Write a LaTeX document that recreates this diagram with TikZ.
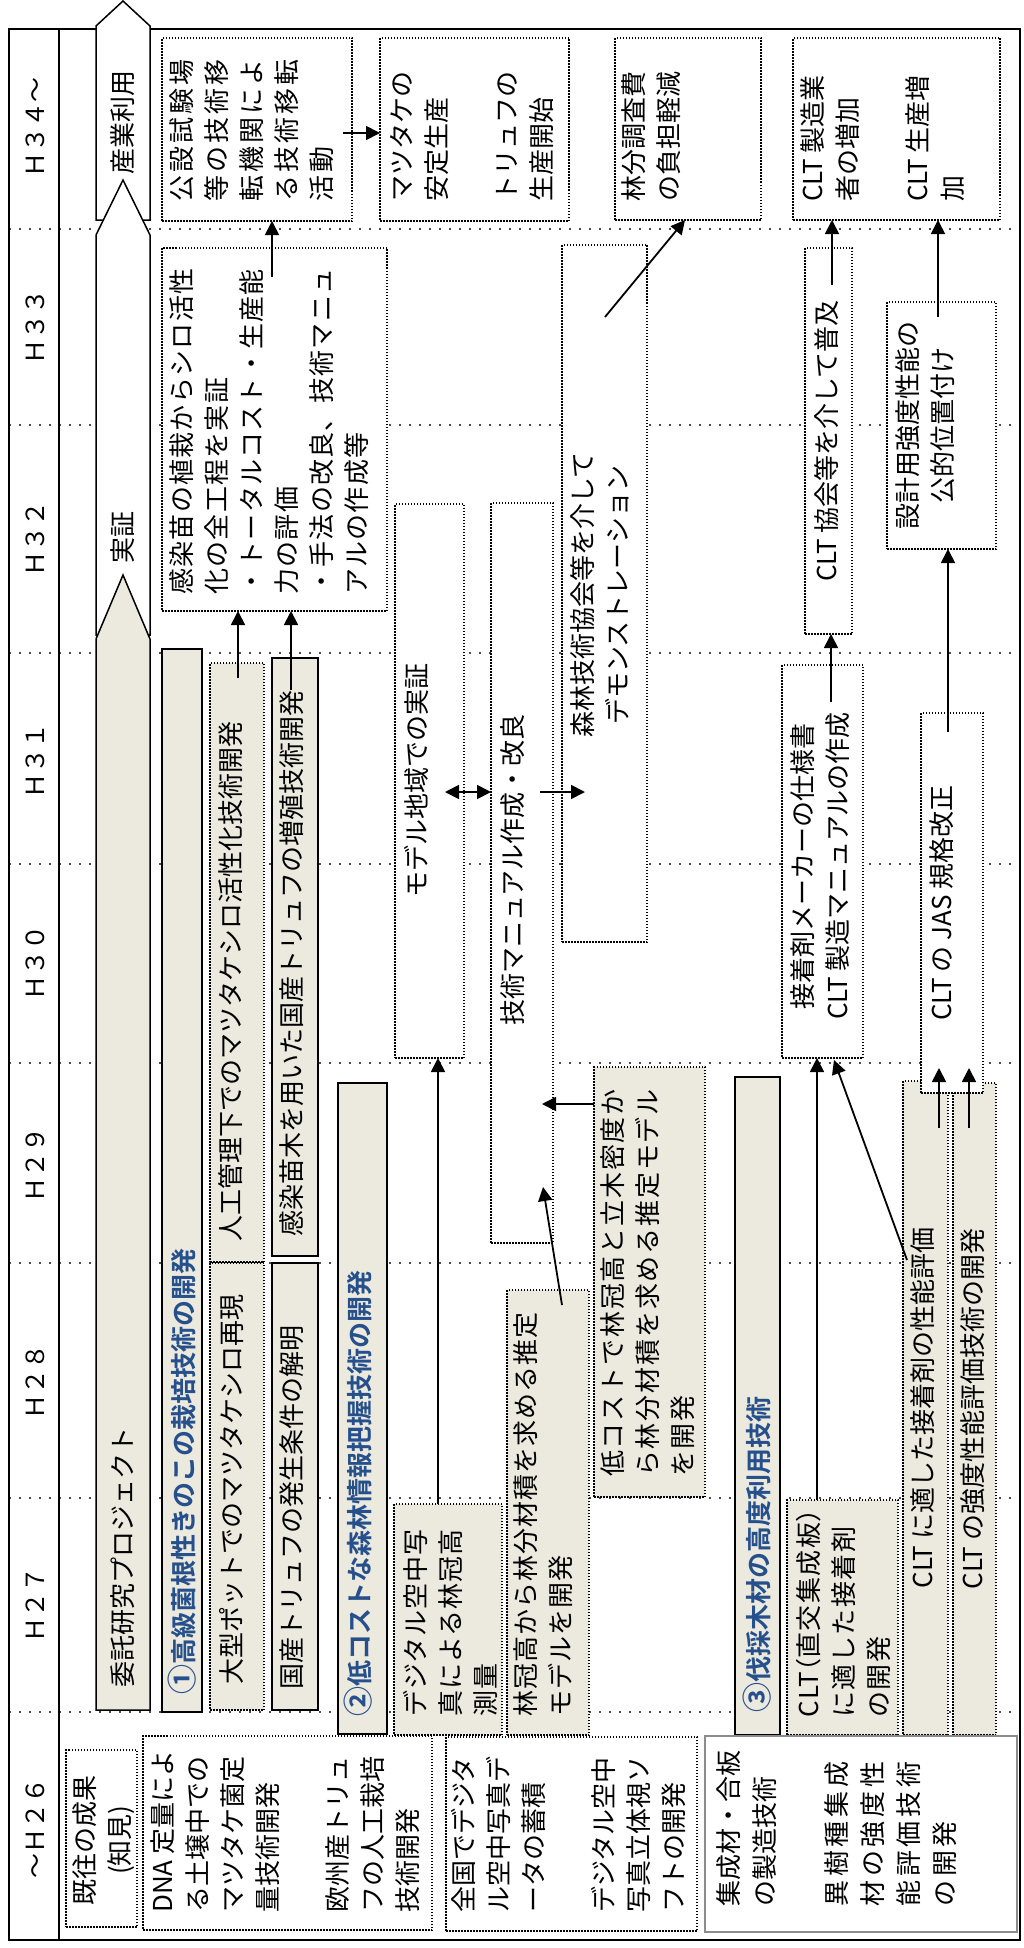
\documentclass[tikz,border=0pt]{standalone}
\usepackage{fontspec}
\setmainfont{Noto Sans CJK JP}[BoldFont={* Bold}]
\usetikzlibrary{arrows.meta}
\definecolor{beige}{RGB}{236,233,222}
\definecolor{hdblue}{RGB}{38,80,140}
\newcommand\mybox[6]{\node[#2,anchor=north west,minimum width={(#5)-(#3)},minimum height={(#6)-(#4)}] (#1) at (#3,#4) {};}
\newcommand\spread[1]{{\addfontfeature{LetterSpace=15}#1}}
\newcommand\halfw[1]{{\addfontfeature{RawFeature=+halt}#1}}
\newcommand\circnum[1]{{\fontsize{30}{35}\selectfont #1}}
\begin{document}
\begin{tikzpicture}[x=1pt,y=-1pt,
 box/.style={rectangle,inner sep=0pt,outer sep=0pt,line width=1.4pt},
 gsolid/.style={box,draw=black,fill=beige},
 gdot/.style={box,draw=black,fill=beige,dash pattern=on 1.5pt off 1.5pt},
 wdot/.style={box,draw=black,fill=white,dash pattern=on 1.5pt off 1.5pt},
 gbord/.style={box,draw=black!45,fill=white},
 txt/.style={rotate=90,inner sep=0pt,anchor=west,align=left,font=\fontsize{26}{35}\selectfont},
 ctxt/.style={txt,anchor=center,align=center},
 ls/.style={font=\fontsize{26}{35}\selectfont\addfontfeature{LetterSpace=#1}},
 head/.style={txt,text=hdblue,font=\fontsize{26}{35}\selectfont\bfseries},
 yr/.style={rotate=90,inner sep=0pt,font=\fontsize{25}{30}\selectfont},
 arr/.style={line width=1.8pt,-{Triangle[length=14pt,width=14pt]}},
 darr/.style={line width=1.8pt,{Triangle[length=14pt,width=14pt]}-{Triangle[length=14pt,width=14pt]}},
 colline/.style={line width=1.5pt,draw=black!70,dash pattern=on 1.5pt off 8.5pt},
 bigarr/.style={draw=black,line width=1.5pt,line join=miter},
]
\useasboundingbox (0,0) rectangle (1023,1948);
\fill[white] (0,0) rectangle (1023,1948);
% column boundaries
\foreach \yy in {229,425,653,864,1063,1263,1498,1712}
  \draw[colline] (9,\yy) -- (1020,\yy);
% frame
\draw[line width=2.5pt] (9,29) rectangle (1020,1940);
\draw[line width=2pt] (59,29) -- (59,1940);
% year headers
\node[yr] (hA) at (35,1828) {～Ｈ２６};
\node[yr] (hB) at (35,1605) {Ｈ２７};
\node[yr] (hC) at (35,1382) {Ｈ２８};
\node[yr] (hD) at (35,1165) {Ｈ２９};
\node[yr] (hE) at (35,963) {Ｈ３０};
\node[yr] (hF) at (35,761) {Ｈ３１};
\node[yr] (hG) at (35,539) {Ｈ３２};
\node[yr] (hH) at (35,327) {Ｈ３３};
\node[yr] (hI) at (35,127) {Ｈ３４～};
% big arrows
\draw[bigarr,fill=white] (96,220) -- (96,26) -- (123,1) -- (150,26) -- (150,220) -- cycle;
\draw[bigarr,fill=white] (96,635) -- (96,235) -- (123,180) -- (150,235) -- (150,635) -- cycle;
\draw[bigarr,fill=beige] (96,1710) -- (96,639) -- (123,575) -- (150,639) -- (150,1710) -- cycle;
\node[ctxt] (tSangyo) at (123,122) {産業利用};
\node[ctxt] (tJissho) at (123,537) {実証};
\node[txt] (tItaku) at (123,1688) {委託研究プロジェクト};
% boxes
\mybox{kiou}{wdot}{66}{1750}{137}{1927}
\mybox{secA}{gsolid}{162}{649}{202}{1712}
\mybox{sAa}{gdot}{210}{1263}{264}{1710}
\mybox{sAb}{gdot}{210}{663}{264}{1262}
\mybox{sAc}{gsolid}{272}{1263}{318}{1710}
\mybox{sAd}{gsolid}{272}{658}{318}{1256}
\mybox{rA}{wdot}{162}{248}{387}{611}
\mybox{oA}{wdot}{162}{38}{352}{221}
\mybox{oB}{wdot}{380}{38}{569}{221}
\mybox{secB}{gsolid}{338}{1083}{387}{1734}
\mybox{sBa}{gdot}{394}{1504}{502}{1735}
\mybox{sBb}{gdot}{507}{1290}{589}{1735}
\mybox{sBc}{gdot}{594}{1067}{705}{1497}
\mybox{sBd}{wdot}{395}{504}{464}{1058}
\mybox{sBe}{wdot}{491}{503}{553}{1243}
\mybox{sBf}{wdot}{562}{245}{647}{942}
\mybox{oC}{wdot}{615}{38}{761}{220}
\mybox{secC}{gsolid}{735}{1077}{780}{1735}
\mybox{sCa}{gdot}{787}{1500}{898}{1735}
\mybox{sCb}{gdot}{903}{1081}{948}{1735}
\mybox{sCc}{gdot}{953}{1083}{996}{1735}
\mybox{sCd}{wdot}{782}{665}{863}{1058}
\mybox{sCe}{wdot}{921}{713}{983}{1093}
\mybox{sCf}{wdot}{805}{248}{852}{634}
\mybox{sCg}{wdot}{887}{302}{996}{549}
\mybox{oD}{wdot}{793}{38}{1000}{220}
\mybox{bA}{wdot}{143}{1736}{432}{1930}
\mybox{bB}{wdot}{446}{1737}{697}{1931}
\mybox{bC}{gbord}{705}{1736}{1017}{1932}
% texts
\node[ctxt] (tKiou) at (104,1840) {既往の成果\\(知見)};
\node[head] (tA) at (182,1695) {\circnum{①}高級菌根性きのこの栽培技術の開発};
\node[head] (tB) at (358,1717) {\circnum{②}低コストな森林情報把握技術の開発};
\node[head] (tC) at (757,1713) {\circnum{③}伐採木材の高度利用技術};
\node[txt] (tAa) at (232,1685) {大型ポットでのマツタケシロ再現};
\node[txt] (tAb) at (231,1242) {人工管理下でのマツタケシロ活性化技術開発};
\node[txt] (tAc) at (292,1690) {国産トリュフの発生条件の解明};
\node[txt] (tAd) at (292,1237) {感染苗木を用いた国産トリュフの増殖技術開発};
\node[txt,ls=5] (trA) at (269.5,595) {感染苗の植栽からシロ活性\\化の全工程を実証\\・トータルコスト・生産能\\力の評価\\・手法の改良、技術マニュ\\アルの作成等};
\node[txt,ls=12] (toA) at (252,202) {公設試験場\\等の技術移\\転機関によ\\る技術移転\\活動};
\node[txt] (toB) at (472,202) {マツタケの\\安定生産\\[35pt]トリュフの\\生産開始};
\node[txt] (toC) at (651.5,202) {林分調査費\\の負担軽減};
\node[txt] (toD) at (883,202) {CLT 製造業\\者の増加\\[35pt]CLT 生産増\\加};
\node[txt,ls=4] (tBa) at (450,1717) {デジタル空中写\\真による林冠高\\測量};
\node[txt,ls=4] (tBb) at (543,1717) {林冠高から林分材積を求める推定\\モデルを開発};
\node[txt,ls=7] (tBc) at (648,1477) {低コストで林冠高と立木密度か\\ら林分材積を求める推定モデル\\を開発};
\node[ctxt] (tBd) at (416,780) {モデル地域での実証};
\node[ctxt] (tBe) at (513,870) {技術マニュアル作成・改良};
\node[ctxt] (tBf) at (600,595) {森林技術協会等を介して\\デモンストレーション};
\node[txt,ls=6] (tCa) at (843,1718) {CLT\halfw{（}直交集成板\halfw{）}\\に適した接着剤\\の開発};
\node[ctxt] (tCb) at (923,1408) {CLT に適した接着剤の性能評価};
\node[ctxt] (tCc) at (973,1409) {CLT の強度性能評価技術の開発};
\node[ctxt] (tCd) at (820,866) {接着剤メーカーの仕様書\\CLT 製造マニュアルの作成};
\node[ctxt] (tCe) at (942,903) {CLT の JAS 規格改正};
\node[ctxt] (tCf) at (827,441) {CLT 協会等を介して普及};
\node[ctxt] (tCg) at (925,425) {設計用強度性能の\\公的位置付け};
\node[txt] (tbA) at (285.5,1913) {DNA 定量によ\\る土壌中での\\マツタケ菌定\\量技術開発\\[35pt]欧州産トリュ\\フの人工栽培\\技術開発};
\node[txt] (tbB) at (569,1913) {全国でデジタ\\ル空中写真デ\\ータの蓄積\\[35pt]デジタル空中\\写真立体視ソ\\フトの開発};
\node[txt,font=\fontsize{26}{36}\selectfont] (tbC) at (836.5,1907) {集成材・合板\\の製造技術\\[36pt]\spread{異樹種集成}\\\spread{材の強度性}\\\spread{能評価技術}\\\spread{の開発}};
% connectors
\coordinate (a1) at (238,678);
\draw[arr] (a1) -- (a1 |- rA.south);
\coordinate (a2) at (291,690);
\draw[arr] (a2) -- (a2 |- rA.south);
\coordinate (a3) at (272,277);
\draw[arr] (a3) -- (a3 |- oA.south);
\coordinate (a4) at (343,133);
\draw[arr] (a4) -- (a4 -| oB.west);
\coordinate (a5) at (438,0);
\draw[arr] (sBa.north -| a5) -- (sBd.south -| a5);
\coordinate (a6) at (445,792);
\draw[darr] (a6) -- (a6 -| sBe.west);
\coordinate (a7s) at (540,792);
\coordinate (a7e) at (585,792);
\draw[arr] (a7s) -- (a7e);
\coordinate (a8s) at (562,1305);
\coordinate (a8e) at (543,1187);
\draw[arr] (a8s) -- (a8e);
\coordinate (a9e) at (542,1104);
\draw[arr] (a9e -| sBc.west) -- (a9e);
\coordinate (a10s) at (605,317);
\coordinate (a10e) at (685,0);
\draw[arr] (a10s) -- (a10e |- oC.south);
\coordinate (a11) at (817,0);
\draw[arr] (sCa.north -| a11) -- (sCd.south -| a11);
\coordinate (a12s) at (907,1260);
\coordinate (a12e) at (834,1060);
\draw[arr] (a12s) -- (a12e);
\coordinate (a13s) at (939,1128);
\coordinate (a13e) at (939,1068);
\draw[arr] (a13s) -- (a13e);
\coordinate (a14s) at (969,1128);
\coordinate (a14e) at (969,1068);
\draw[arr] (a14s) -- (a14e);
\coordinate (a15) at (831,702);
\draw[arr] (a15) -- (a15 |- sCf.south);
\coordinate (a16) at (948,732);
\draw[arr] (a16) -- (a16 |- sCg.south);
\coordinate (a17) at (832,285);
\draw[arr] (a17) -- (a17 |- oD.south);
\coordinate (a18) at (938,317);
\draw[arr] (a18) -- (a18 |- oD.south);
\end{tikzpicture}
\end{document}
